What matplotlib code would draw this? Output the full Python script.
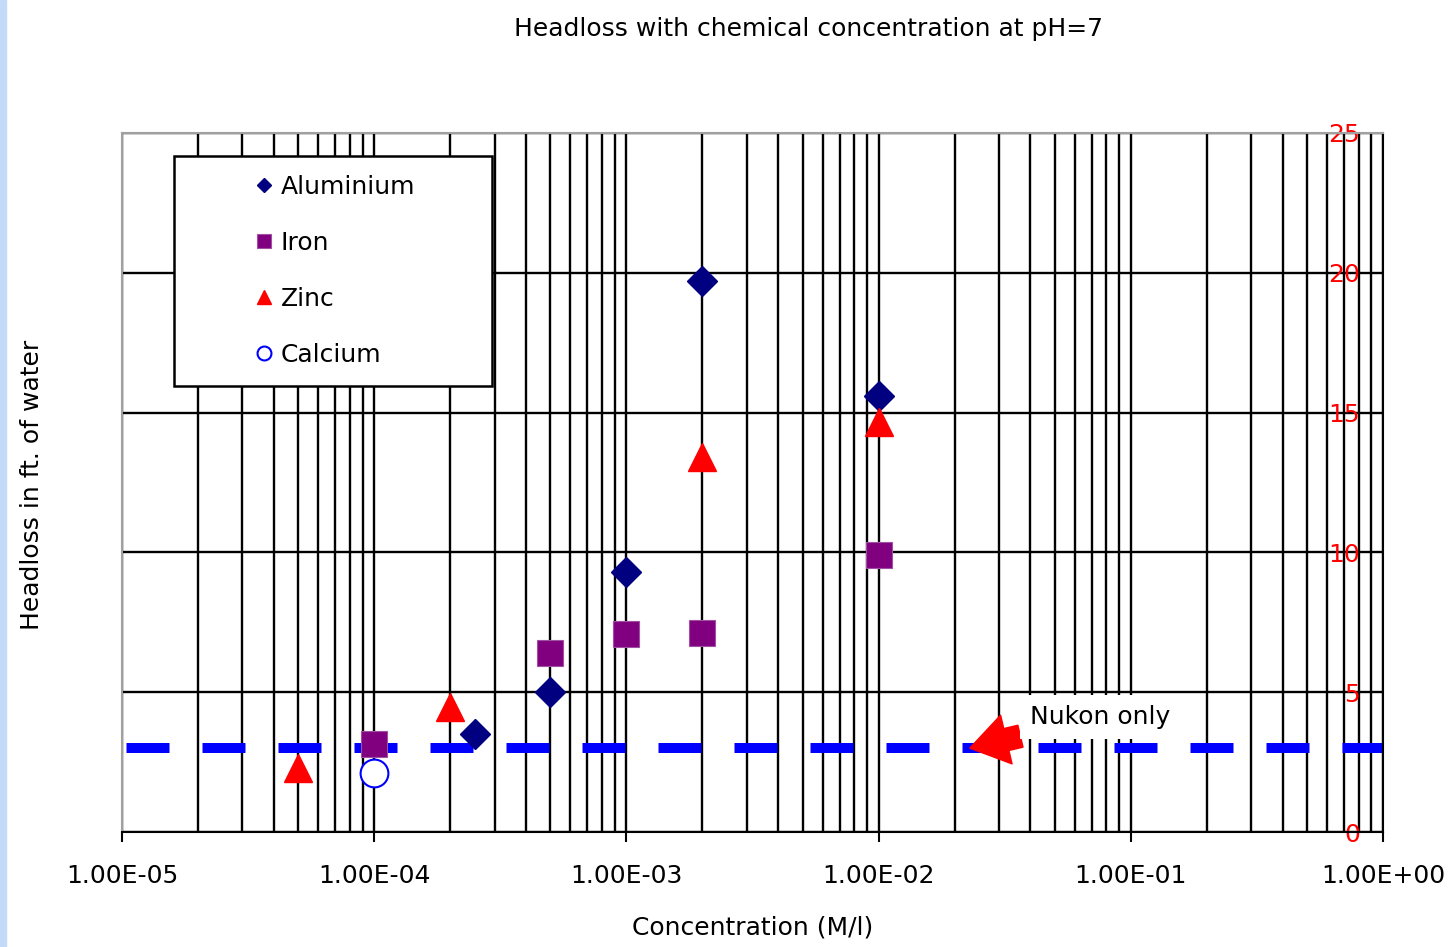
import matplotlib
matplotlib.use('Agg')
from matplotlib import pyplot as plt
from matplotlib.ticker import LogLocator, FuncFormatter, NullFormatter
from matplotlib.patches import Rectangle

title = 'Headloss with chemical concentration at pH=7'
x_label = 'Concentration (M/l)'
y_label = 'Headloss in ft. of water'

# values
al_conc = [2.5e-4, 5e-4, 1e-3, 2e-3, 1e-2]
al_head = [3.5, 5.02, 9.3, 19.7, 15.6]
fe_conc = [1e-4, 5e-4, 1e-3, 2e-3, 1e-2]
fe_head = [3.15, 6.4, 7.08, 7.1, 9.9]
zn_conc = [5e-5, 2e-4, 2e-3, 1e-2]
zn_head = [2.3, 4.48, 13.42, 14.66]
ca_conc = [1e-4]
ca_head = [2.11]

nukon_head = 3.0
nukon_label = 'Nukon only'
nukon_arrow = (2.3e-2, 3.0)
nukon_text = (4e-2, 4.1)

x_ticks = [1e-5, 1e-4, 1e-3, 1e-2, 1e-1, 1e0]
y_ticks = [0, 5, 10, 15, 20, 25]

plt.rcParams['font.family'] = 'DejaVu Sans'
fs = 18

fig = plt.figure(figsize=(14.51, 9.47), dpi=100)
ax = fig.add_axes([122/1451, 1 - 832/947, 1261/1451, 699/947])

# light blue strip at the left border of the screenshot
fig.patches.append(Rectangle((0, 0), 6/1451, 1, transform=fig.transFigure,
                             color='#c4dbf7', zorder=0))

ax.axhline(nukon_head, color='#0000ff', lw=7.2, linestyle=(7.15, (4.3, 3.3)), zorder=2)

ax.plot(al_conc, al_head, 'D', color='#000080', ms=15, ls='none', label='Aluminium', zorder=4)
ax.plot(fe_conc, fe_head, 's', color='#800080', mec='#a050a0', mew=0.8, ms=19, ls='none', label='Iron', zorder=4)
ax.plot(zn_conc, zn_head, '^', color='#ff0000', ms=20, ls='none', label='Zinc', zorder=4)
ax.plot(ca_conc, ca_head, 'o', mfc='white', mec='#0000ff', mew=1.5, ms=20, ls='none', label='Calcium', zorder=4)

ax.set_xscale('log')
ax.set_xlim(1e-5, 1)
ax.set_ylim(0, 25)
ax.set_xticks(x_ticks)
ax.xaxis.set_minor_locator(LogLocator(base=10, subs=range(2, 10), numticks=20))
ax.xaxis.set_minor_formatter(NullFormatter())
ax.xaxis.set_major_formatter(FuncFormatter(lambda v, p: f'{v:.2E}'))
ax.set_yticks(y_ticks)

ax.set_axisbelow(True)
ax.grid(which='both', axis='x', color='black', lw=1.7)
ax.grid(which='major', axis='y', color='black', lw=1.7)

ax.tick_params(axis='x', which='major', direction='out', length=7, width=1.5,
               labelsize=fs, pad=16)
ax.tick_params(axis='x', which='minor', length=0)
ax.tick_params(axis='y', which='both', left=False, right=False, length=0,
               labelleft=False, labelright=True, labelcolor='red',
               labelsize=fs, pad=-16.5)
for lbl in ax.get_yticklabels():
    lbl.set_horizontalalignment('right')

for side in ['top', 'left']:
    ax.spines[side].set_color('#a0a0a0')
    ax.spines[side].set_linewidth(1.5)
for side in ['bottom', 'right']:
    ax.spines[side].set_color('black')
    ax.spines[side].set_linewidth(1.5)

ax.set_xlabel(x_label, fontsize=fs)
ax.xaxis.set_label_coords(0.5, -0.136)
ax.xaxis.label.set_verticalalignment('center')
ax.set_ylabel(y_label, fontsize=fs)
ax.yaxis.set_label_coords(-0.071, 0.496)
ax.yaxis.label.set_verticalalignment('center')

fig.text(809/1451, 1 - 29/947, title, fontsize=fs, ha='center', va='center')

ax.annotate(nukon_label, xy=nukon_arrow, xytext=nukon_text, fontsize=fs,
            ha='left', va='center', zorder=5,
            bbox=dict(boxstyle='square,pad=0.4', fc='white', ec='none'),
            arrowprops=dict(arrowstyle='simple,head_length=1.5,head_width=2.0,tail_width=0.9',
                            fc='red', ec='red', shrinkA=0, shrinkB=0))

leg = ax.legend(loc='upper left', bbox_to_anchor=(0.0412, 0.5, 0.252, 0.467),
                mode='expand', borderaxespad=0, fontsize=fs, markerscale=0.5,
                numpoints=1, handlelength=5.7, handletextpad=-2.18,
                borderpad=0.75, labelspacing=1.28, fancybox=False,
                framealpha=1, edgecolor='black')
leg.get_frame().set_linewidth(1.8)
leg.set_zorder(6)

fig.savefig('out.png', dpi=100)
